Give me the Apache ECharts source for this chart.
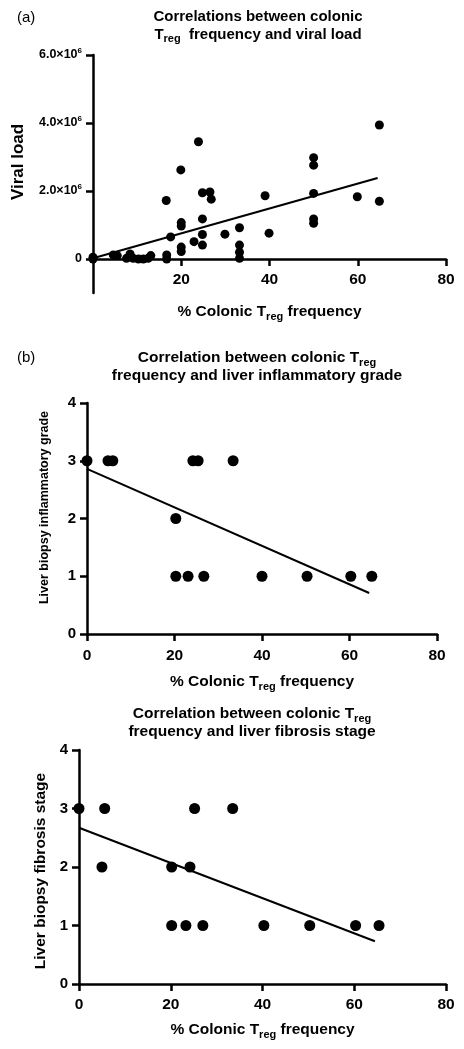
<!DOCTYPE html>
<html>
<head>
<meta charset="utf-8">
<script src="https://cdn.jsdelivr.net/npm/echarts@6/dist/echarts.min.js"></script>
<style>
html,body{margin:0;padding:0;background:#fff;}
#c{width:464px;height:1049px;}
</style>
</head>
<body>
<div id="c"></div>
<script>
// ---- data ----
const xTicks = [0, 20, 40, 60, 80];
const xTicksA = [20, 40, 60, 80];
const viralTicks = [0, 2e6, 4e6, 6e6];
const gradeTicks = [0, 1, 2, 3, 4];

const viralX = [0, 0, 4.6, 5.5, 7.6, 8.4, 9.1, 10.3, 11.4, 12.5, 13.1, 16.7, 16.7, 16.6, 17.6,
  19.9, 20, 20, 20, 20, 22.9, 23.9, 24.8, 26.5, 26.8, 24.8, 24.8, 24.8, 29.9,
  33.2, 33.2, 33.2, 33.2, 39, 39.9, 50, 50, 50, 50, 50, 59.9, 64.9, 64.9];
const viralY = [0, 0.05e6, 0.12e6, 0.1e6, 0.02e6, 0.15e6, 0.02e6, 0, 0, 0.02e6, 0.1e6, 0.12e6, 0, 1.72e6, 0.65e6,
  2.62e6, 1.07e6, 0.97e6, 0.35e6, 0.22e6, 0.51e6, 3.45e6, 1.95e6, 1.97e6, 1.76e6, 1.18e6, 0.72e6, 0.41e6, 0.73e6,
  0.92e6, 0.41e6, 0.2e6, 0.02e6, 1.86e6, 0.76e6, 2.98e6, 2.76e6, 1.93e6, 1.18e6, 1.05e6, 1.83e6, 3.94e6, 1.7e6];
const viralFit = [[0, 0.02e6], [64.5, 2.38e6]];

const inflX = [0, 4.8, 5.9, 24.2, 25.4, 33.4, 20.3, 20.3, 23.1, 26.7, 40, 50.3, 60.3, 65.1];
const inflY = [3, 3, 3, 3, 3, 3, 2, 1, 1, 1, 1, 1, 1, 1];
const inflFit = [[0, 2.86], [64.5, 0.71]];

const fibX = [0, 5.6, 25.2, 33.5, 5, 20.2, 24.2, 20.2, 23.3, 27, 40.3, 50.3, 60.3, 65.4];
const fibY = [3, 3, 3, 3, 2, 2, 2, 1, 1, 1, 1, 1, 1, 1];
const fibFit = [[0, 2.67], [64.5, 0.73]];

// ---- chart ----
const FONT = 'Liberation Sans, Arial, Helvetica, sans-serif';
const pairs = (xs, ys) => xs.map((x, i) => [x, ys[i]]);
const subRich = (size) => ({
  b: {fontSize: size, fontWeight: 'bold', color: '#000', fontFamily: FONT},
  sub: {fontSize: Math.round(size * 0.72), fontWeight: 'bold', color: '#000', fontFamily: FONT, padding: [Math.round(size * 0.55), 0, 0, 0]}
});
const axisLine = {show: true, onZero: true, lineStyle: {color: '#000', width: 2.5}};
const axisTick = {show: true, length: 7, lineStyle: {color: '#000', width: 2.5}};
const xName = '{b|% Colonic T}{sub|reg}{b| frequency}';

function xAxisCfg(gridIndex, labelVals, margin, nameGap) {
  return {
    type: 'value', gridIndex, min: 0, max: 80, interval: 20,
    axisLine, splitLine: {show: false},
    axisTick: Object.assign({}, axisTick, {customValues: labelVals}),
    axisLabel: {customValues: labelVals, color: '#000', fontWeight: 'bold', fontSize: 15.5, fontFamily: FONT, margin},
    name: xName, nameLocation: 'middle', nameGap,
    nameTextStyle: {rich: subRich(15.5)}
  };
}

const option = {
  animation: false,
  backgroundColor: '#fff',
  textStyle: {fontFamily: FONT},
  title: [
    {text: '(a)', left: 12, top: 5, textStyle: {fontSize: 15, fontWeight: 'normal', color: '#000', fontFamily: FONT}},
    {text: '{b|Correlations between colonic}\n{b|T}{sub|reg}{b|  frequency and viral load}', left: 253, top: 3, textAlign: 'center',
      textStyle: {lineHeight: 18, rich: subRich(15)}},
    {text: '(b)', left: 12, top: 345, textStyle: {fontSize: 15, fontWeight: 'normal', color: '#000', fontFamily: FONT}},
    {text: '{b|Correlation between colonic T}{sub|reg}\n{b|frequency and liver inflammatory grade}', left: 252, top: 344, textAlign: 'center',
      textStyle: {lineHeight: 18, rich: subRich(15.5)}},
    {text: '{b|Correlation between colonic T}{sub|reg}\n{b|frequency and liver fibrosis stage}', left: 247, top: 700, textAlign: 'center',
      textStyle: {lineHeight: 18, rich: subRich(15.5)}}
  ],
  grid: [
    {left: 93, right: 18, top: 55, bottom: 756},
    {left: 87, right: 27, top: 403, bottom: 415},
    {left: 79, right: 18, top: 750, bottom: 65}
  ],
  xAxis: [
    xAxisCfg(0, xTicksA, -21, 9),
    xAxisCfg(1, xTicks, 14, 38),
    xAxisCfg(2, xTicks, 13, 36)
  ],
  yAxis: [
    {
      type: 'value', gridIndex: 0, min: -1e6, max: 6e6,
      axisLine, splitLine: {show: false},
      axisTick: Object.assign({}, axisTick, {customValues: viralTicks}),
      axisLabel: {
        customValues: viralTicks, margin: 11, color: '#000', fontWeight: 'bold', fontSize: 12.5, fontFamily: FONT,
        formatter: v => v === 0 ? '{m|0}' : '{m|' + (v / 1e6).toFixed(1) + '×10}{sup|6}',
        rich: {
          m: {fontSize: 12.5, fontWeight: 'bold', color: '#000', fontFamily: FONT},
          sup: {fontSize: 8, fontWeight: 'bold', color: '#000', fontFamily: FONT, padding: [0, 0, 8, 0]}
        }
      },
      name: 'Viral load', nameLocation: 'middle', nameGap: 66,
      nameTextStyle: {fontSize: 17, fontWeight: 'bold', color: '#000', fontFamily: FONT, padding: [0, 0, 0, 24]}
    },
    {
      type: 'value', gridIndex: 1, min: 0, max: 4, interval: 1,
      axisLine, splitLine: {show: false}, axisTick,
      axisLabel: {customValues: gradeTicks, margin: 11, color: '#000', fontWeight: 'bold', fontSize: 15, fontFamily: FONT},
      name: 'Liver biopsy inflammatory grade', nameLocation: 'middle', nameGap: 36,
      nameTextStyle: {fontSize: 12.5, fontWeight: 'bold', color: '#000', fontFamily: FONT, padding: [0, 0, 0, 22]}
    },
    {
      type: 'value', gridIndex: 2, min: 0, max: 4, interval: 1,
      axisLine, splitLine: {show: false}, axisTick,
      axisLabel: {customValues: gradeTicks, margin: 11, color: '#000', fontWeight: 'bold', fontSize: 15, fontFamily: FONT},
      name: 'Liver biopsy fibrosis stage', nameLocation: 'middle', nameGap: 30,
      nameTextStyle: {fontSize: 15.5, fontWeight: 'bold', color: '#000', fontFamily: FONT, padding: [0, 8, 0, 0]}
    }
  ],
  series: [
    {type: 'scatter', xAxisIndex: 0, yAxisIndex: 0, data: pairs(viralX, viralY), symbolSize: 9, itemStyle: {color: '#000', opacity: 1}},
    {type: 'line', xAxisIndex: 0, yAxisIndex: 0, data: viralFit, symbol: 'none', lineStyle: {color: '#000', width: 2}},
    {type: 'scatter', xAxisIndex: 1, yAxisIndex: 1, data: pairs(inflX, inflY), symbolSize: 11, itemStyle: {color: '#000', opacity: 1}},
    {type: 'line', xAxisIndex: 1, yAxisIndex: 1, data: inflFit, symbol: 'none', lineStyle: {color: '#000', width: 2}},
    {type: 'scatter', xAxisIndex: 2, yAxisIndex: 2, data: pairs(fibX, fibY), symbolSize: 11, itemStyle: {color: '#000', opacity: 1}},
    {type: 'line', xAxisIndex: 2, yAxisIndex: 2, data: fibFit, symbol: 'none', lineStyle: {color: '#000', width: 2}}
  ]
};
const chart = echarts.init(document.getElementById('c'), null, {renderer: 'canvas'});
chart.setOption(option);
</script>
</body>
</html>
